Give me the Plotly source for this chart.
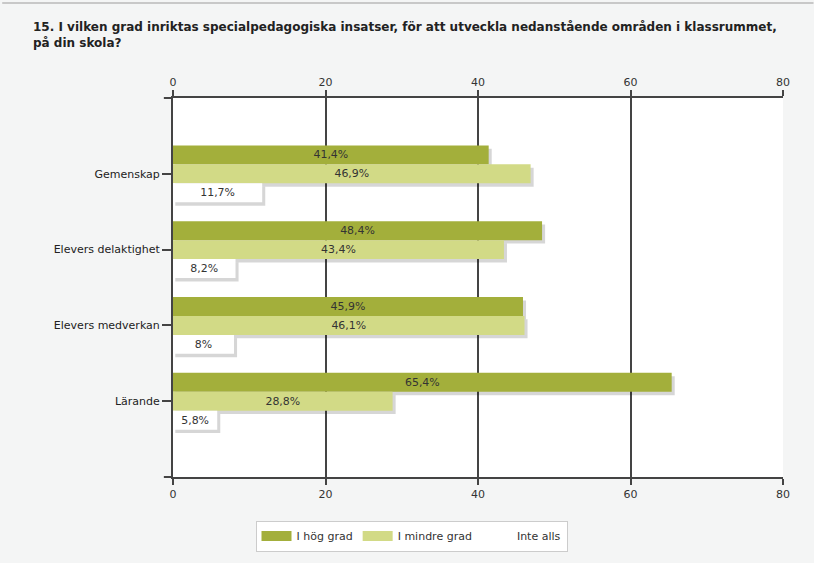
import plotly.graph_objects as go

categories = ["Gemenskap", "Elevers delaktighet", "Elevers medverkan", "Lärande"]
series_names = ["I hög grad", "I mindre grad", "Inte alls"]
hog_grad = [41.4, 48.4, 45.9, 65.4]
mindre_grad = [46.9, 43.4, 46.1, 28.8]
inte_alls = [11.7, 8.2, 8.0, 5.8]
x_ticks = [0, 20, 40, 60, 80]

series_values = [hog_grad, mindre_grad, inte_alls]
colors = ["#a3af3b", "#d2da86", "#ffffff"]
FONT = "DejaVu Sans"
AX = "#444444"
BG = "#f4f5f5"

cat_pos = [i + 1 for i in range(len(categories))]
bar_w = 0.25
offsets = [-0.375, -0.125, 0.125]


def fmt(v):
    return f"{v:g}".replace(".", ",") + "%"


fig = go.Figure()
shapes = []
for s, (name, vals, col, off) in enumerate(zip(series_names, series_values, colors, offsets)):
    fig.add_trace(go.Bar(
        y=cat_pos, x=vals, orientation="h", name=name,
        marker=dict(color=col, line=dict(width=0)),
        width=bar_w, offset=off,
        text=[fmt(v) for v in vals], textposition="inside",
        insidetextanchor="middle", textangle=0,
        textfont=dict(family=FONT, size=11, color="#333333"),
        showlegend=False, hoverinfo="skip",
    ))
    # drop shadows
    for p, v in zip(cat_pos, vals):
        shapes.append(dict(
            type="rect", xref="x", yref="y", layer="between",
            x0=0.3, x1=v + 0.4, y0=p + off + 0.045, y1=p + off + bar_w + 0.045,
            fillcolor="rgba(0,0,0,0.16)", line=dict(width=0)))
    # legend entry
    fig.add_trace(go.Scatter(
        x=[None], y=[None], mode="lines", name=name,
        line=dict(color=col, width=10),
        showlegend=True, hoverinfo="skip"))

# invisible trace for bottom axis
fig.add_trace(go.Scatter(x=[0], y=[None], xaxis="x2", yaxis="y", showlegend=False,
                         mode="markers", marker=dict(opacity=0), hoverinfo="skip"))

# axis line extensions & top frame line
for yy in (0, 1):
    shapes.append(dict(type="line", xref="paper", yref="paper", x0=-0.015, x1=0,
                       y0=yy, y1=yy, line=dict(color=AX, width=2), layer="above"))
shapes.append(dict(type="line", xref="paper", yref="paper", x0=-0.28, x1=1.05,
                   y0=1 + 95 / 379, y1=1 + 95 / 379, line=dict(color="#c8c8c8", width=2),
                   layer="above"))

axis_common = dict(
    range=[0, 80], tickvals=x_ticks, ticks="outside", ticklen=6, tickwidth=2,
    tickcolor=AX, showline=True, linecolor=AX, linewidth=2, zeroline=False,
    tickfont=dict(family=FONT, size=11, color="#333333"), fixedrange=True,
)

fig.update_layout(
    width=814, height=563,
    margin=dict(l=173, r=31, t=98, b=86),
    paper_bgcolor=BG, plot_bgcolor="#ffffff",
    barmode="overlay",
    title=dict(
        text="15. I vilken grad inriktas specialpedagogiska insatser, för att utveckla nedanstående områden i klassrummet,<br>på din skola?",
        x=33 / 814, xanchor="left", xref="container", y=1 - 31 / 563, yanchor="top",
        font=dict(family=FONT, size=12, color="#222222", weight="bold"),
    ),
    xaxis=dict(side="top", showgrid=True, gridcolor=AX, gridwidth=2, anchor="y", **axis_common),
    xaxis2=dict(side="bottom", overlaying="x", matches="x", anchor="y", showgrid=False, **axis_common),
    yaxis=dict(range=[5, 0], tickvals=cat_pos, ticktext=categories, ticks="outside",
               ticklen=9, tickwidth=1.5, tickcolor=AX, showline=True, linecolor=AX, linewidth=2,
               showgrid=False, zeroline=False, fixedrange=True,
               tickfont=dict(family=FONT, size=11, color="#222222")),
    legend=dict(orientation="h", x=(411.5 - 173) / 610, xanchor="center",
                y=-(536 - 477) / 379, yanchor="middle",
                bgcolor="#ffffff", bordercolor="#cccccc", borderwidth=1,
                font=dict(family=FONT, size=11, color="#333333"), itemwidth=30),
    shapes=shapes,
)

fig.write_html(
    "out.html",
    config={"displayModeBar": False},
    post_script=(
        "document.body.style.margin='0';"
        "document.body.style.overflow='hidden';"
        f"document.body.style.background='{BG}';"
    ),
)
